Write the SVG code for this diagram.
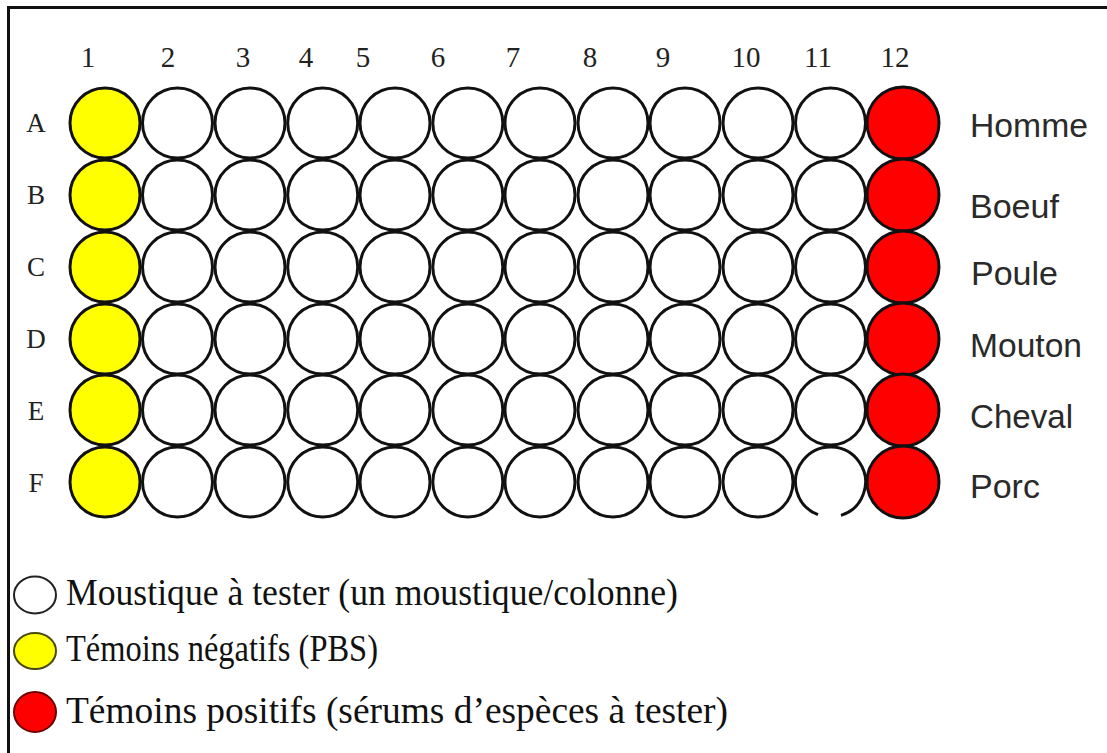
<svg xmlns="http://www.w3.org/2000/svg" width="1107" height="753" viewBox="0 0 1107 753">
<style>
.w{fill:#fff;stroke:#111;stroke-width:3}
.y{fill:#ffff00;stroke:#111;stroke-width:3}
.r{fill:#ff0000;stroke:#111;stroke-width:3}
.num{font-family:"Liberation Serif",serif;font-size:29px;fill:#222;text-anchor:middle}
.row{font-family:"Liberation Serif",serif;font-size:27px;fill:#222;text-anchor:middle}
.sp{font-family:"Liberation Sans",Arial,sans-serif;font-size:34px;fill:#2a2a2a}
.lg{font-family:"Liberation Serif","Times New Roman",serif;font-size:37px;fill:#111}
</style>
<rect width="1107" height="753" fill="#fff"/>
<g id="frame" fill="none" stroke="#111" stroke-width="3">
<line x1="8" y1="7.5" x2="1107" y2="7.5"/>
<line x1="8.5" y1="6" x2="8.5" y2="753"/>
</g>
<g id="column-labels">
<text class="num" x="88" y="67">1</text>
<text class="num" x="168" y="67">2</text>
<text class="num" x="243" y="67">3</text>
<text class="num" x="306" y="67">4</text>
<text class="num" x="363" y="67">5</text>
<text class="num" x="438" y="67">6</text>
<text class="num" x="513" y="67">7</text>
<text class="num" x="590" y="67">8</text>
<text class="num" x="663" y="67">9</text>
<text class="num" x="746" y="67">10</text>
<text class="num" x="818" y="67">11</text>
<text class="num" x="895" y="67">12</text>
</g>
<g id="row-labels">
<text class="row" x="36" y="132">A</text>
<text class="row" x="36" y="204">B</text>
<text class="row" x="36" y="276">C</text>
<text class="row" x="36" y="348">D</text>
<text class="row" x="36" y="420">E</text>
<text class="row" x="36" y="492">F</text>
</g>
<g id="row-A">
<circle class="w" cx="177.5" cy="123" r="35"/><circle class="w" cx="250" cy="123" r="35"/><circle class="w" cx="322.7" cy="123" r="35"/><circle class="w" cx="395" cy="123" r="35"/><circle class="w" cx="467.8" cy="123" r="35"/><circle class="w" cx="540" cy="123" r="35"/><circle class="w" cx="613" cy="123" r="35"/><circle class="w" cx="685" cy="123" r="35"/><circle class="w" cx="758" cy="123" r="35"/><circle class="w" cx="830.5" cy="123" r="35"/>
<circle class="y" cx="105" cy="123" r="35"/><circle class="r" cx="903" cy="123" r="36"/>
</g>
<g id="row-B">
<circle class="w" cx="177.5" cy="195" r="35"/><circle class="w" cx="250" cy="195" r="35"/><circle class="w" cx="322.7" cy="195" r="35"/><circle class="w" cx="395" cy="195" r="35"/><circle class="w" cx="467.8" cy="195" r="35"/><circle class="w" cx="540" cy="195" r="35"/><circle class="w" cx="613" cy="195" r="35"/><circle class="w" cx="685" cy="195" r="35"/><circle class="w" cx="758" cy="195" r="35"/><circle class="w" cx="830.5" cy="195" r="35"/>
<circle class="y" cx="105" cy="195" r="35"/><circle class="r" cx="903" cy="195" r="36"/>
</g>
<g id="row-C">
<circle class="w" cx="177.5" cy="267" r="35"/><circle class="w" cx="250" cy="267" r="35"/><circle class="w" cx="322.7" cy="267" r="35"/><circle class="w" cx="395" cy="267" r="35"/><circle class="w" cx="467.8" cy="267" r="35"/><circle class="w" cx="540" cy="267" r="35"/><circle class="w" cx="613" cy="267" r="35"/><circle class="w" cx="685" cy="267" r="35"/><circle class="w" cx="758" cy="267" r="35"/><circle class="w" cx="830.5" cy="267" r="35"/>
<circle class="y" cx="105" cy="267" r="35"/><circle class="r" cx="903" cy="267" r="36"/>
</g>
<g id="row-D">
<circle class="w" cx="177.5" cy="339" r="35"/><circle class="w" cx="250" cy="339" r="35"/><circle class="w" cx="322.7" cy="339" r="35"/><circle class="w" cx="395" cy="339" r="35"/><circle class="w" cx="467.8" cy="339" r="35"/><circle class="w" cx="540" cy="339" r="35"/><circle class="w" cx="613" cy="339" r="35"/><circle class="w" cx="685" cy="339" r="35"/><circle class="w" cx="758" cy="339" r="35"/><circle class="w" cx="830.5" cy="339" r="35"/>
<circle class="y" cx="105" cy="339" r="35"/><circle class="r" cx="903" cy="339" r="36"/>
</g>
<g id="row-E">
<circle class="w" cx="177.5" cy="410" r="35"/><circle class="w" cx="250" cy="410" r="35"/><circle class="w" cx="322.7" cy="410" r="35"/><circle class="w" cx="395" cy="410" r="35"/><circle class="w" cx="467.8" cy="410" r="35"/><circle class="w" cx="540" cy="410" r="35"/><circle class="w" cx="613" cy="410" r="35"/><circle class="w" cx="685" cy="410" r="35"/><circle class="w" cx="758" cy="410" r="35"/><circle class="w" cx="830.5" cy="410" r="35"/>
<circle class="y" cx="105" cy="410" r="35"/><circle class="r" cx="903" cy="410" r="36"/>
</g>
<g id="row-F">
<circle class="w" cx="177.5" cy="482" r="35"/><circle class="w" cx="250" cy="482" r="35"/><circle class="w" cx="322.7" cy="482" r="35"/><circle class="w" cx="395" cy="482" r="35"/><circle class="w" cx="467.8" cy="482" r="35"/><circle class="w" cx="540" cy="482" r="35"/><circle class="w" cx="613" cy="482" r="35"/><circle class="w" cx="685" cy="482" r="35"/><circle class="w" cx="758" cy="482" r="35"/>
<path class="w" d="M841 515.4 A35 35 0 1 0 818 514.7"/>
<circle class="y" cx="105" cy="482" r="35"/><circle class="r" cx="903" cy="482" r="36"/>
</g>
<g id="species">
<text class="sp" x="970" y="137" textLength="118" lengthAdjust="spacingAndGlyphs">Homme</text>
<text class="sp" x="970" y="218">Boeuf</text>
<text class="sp" x="971" y="285">Poule</text>
<text class="sp" x="970" y="357" textLength="112" lengthAdjust="spacingAndGlyphs">Mouton</text>
<text class="sp" x="970" y="428" textLength="103" lengthAdjust="spacingAndGlyphs">Cheval</text>
<text class="sp" x="970" y="498">Porc</text>
</g>
<g id="legend">
<g id="legend-test">
<ellipse cx="35" cy="595" rx="21" ry="18.5" fill="#fff" stroke="#222" stroke-width="2"/>
<text class="lg" x="66" y="605" textLength="612" lengthAdjust="spacingAndGlyphs">Moustique à tester (un moustique/colonne)</text>
</g>
<g id="legend-neg">
<ellipse cx="35" cy="651" rx="21" ry="18" fill="#ffff00" stroke="#4a4a10" stroke-width="2"/>
<text class="lg" x="66" y="661" textLength="312" lengthAdjust="spacingAndGlyphs">Témoins négatifs (PBS)</text>
</g>
<g id="legend-pos">
<ellipse cx="35" cy="712" rx="21" ry="20" fill="#ff0000" stroke="#6a0000" stroke-width="2"/>
<text class="lg" x="66" y="723" textLength="662" lengthAdjust="spacingAndGlyphs">Témoins positifs (sérums d’espèces à tester)</text>
</g>
</g>
</svg>
